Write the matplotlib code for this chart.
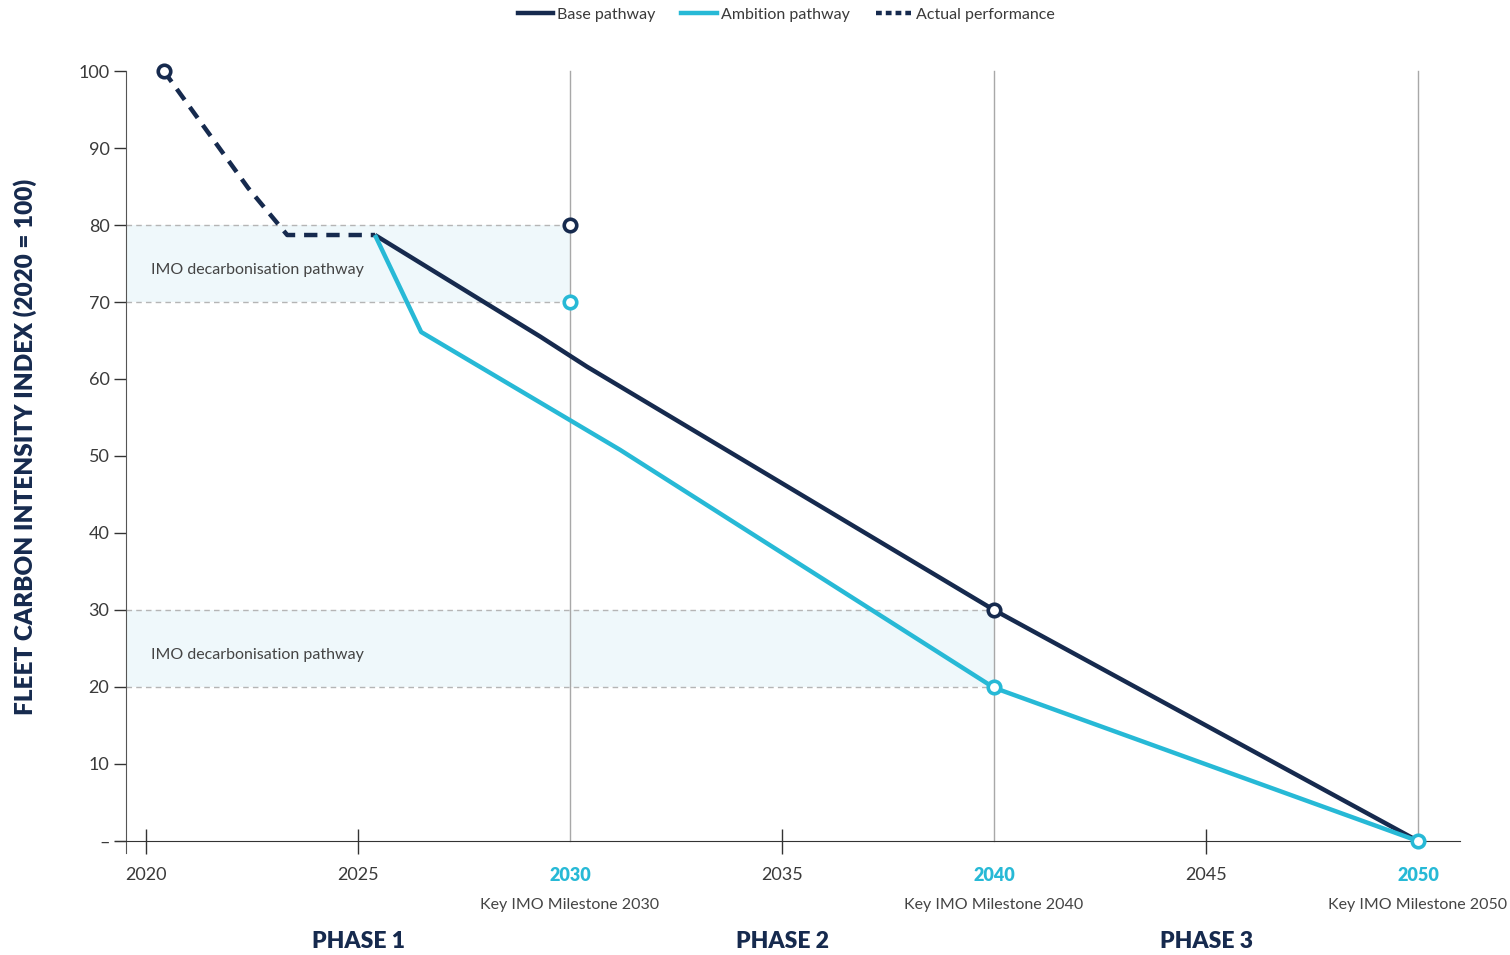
import matplotlib
matplotlib.use("Agg")
import matplotlib.pyplot as plt
from matplotlib.lines import Line2D

plt.rcParams['font.family'] = ['Lato', 'DejaVu Sans']

NAVY = '#162a4e'
CYAN = '#27b9d6'
GREY = '#3a3a3a'

# data
actual_x = [2020.42, 2022.41, 2023.33, 2025.40]
actual_y = [100, 84.8, 78.7, 78.7]
base_x = [2025.40, 2029.30, 2030.40, 2040, 2050]
base_y = [78.7, 65.5, 61.6, 30, 0]
amb_x = [2025.40, 2026.49, 2031.18, 2040, 2050]
amb_y = [78.7, 66.1, 50.8, 19.9, 0]

base_marks_x = [2020.42, 2030, 2040]
base_marks_y = [100, 80, 30]
amb_marks_x = [2030, 2040, 2050]
amb_marks_y = [70, 20, 0]

bands = [(70, 80, 2030), (20, 30, 2040)]
band_label = 'IMO decarbonisation pathway'

milestones = [2030, 2040, 2050]
plain_years = [2020, 2025, 2035, 2045]
yticks = [0, 10, 20, 30, 40, 50, 60, 70, 80, 90, 100]
ytick_labels = ['–', '10', '20', '30', '40', '50', '60', '70', '80', '90', '100']
phases = ['PHASE 1', 'PHASE 2', 'PHASE 3']
phase_x = [2025, 2035, 2045]

fig = plt.figure(figsize=(15.1, 9.55), dpi=100)
# axes spans px 100..1470 horizontally, 60..860 vertically
ax = fig.add_axes([100/1510, 1-860/955, 1370/1510, 800/955])
ax.set_xlim(2018.915, 2051.226)
ax.set_ylim(-2.47, 101.43)

x_left = 2019.53

# bands
for lo, hi, xe in bands:
    ax.fill_between([x_left, xe], lo, hi, color='#eff8fb', lw=0, zorder=0)
    for v in (lo, hi):
        ax.plot([x_left, xe], [v, v], color='#b5b5b5', lw=1, ls=(0, (4, 3)), zorder=1)
    ax.text(2020.12, (lo+hi)/2 - 0.8, band_label, fontsize=11.5, color='#444444',
            va='center', ha='left')

# milestone vertical lines
for m in milestones:
    ax.plot([m, m], [0, 100], color='#a8a8a8', lw=1, zorder=1)

# lines
ax.plot(base_x, base_y, color=NAVY, lw=3.2, solid_capstyle='butt', zorder=3)
ax.plot(amb_x, amb_y, color=CYAN, lw=3.2, solid_capstyle='butt', zorder=4)
ax.plot(actual_x, actual_y, color=NAVY, lw=3.2, dashes=(3.0, 2.0), zorder=3)

ax.plot(base_marks_x, base_marks_y, ls='none', marker='o', ms=9, mfc='white',
        mec=NAVY, mew=2.6, zorder=6, clip_on=False)
ax.plot(amb_marks_x, amb_marks_y, ls='none', marker='o', ms=9, mfc='white',
        mec=CYAN, mew=2.6, zorder=6, clip_on=False)

# spines
for s in ['top', 'right']:
    ax.spines[s].set_visible(False)
ax.spines['left'].set_position(('data', x_left))
ax.spines['left'].set_bounds(-1.5, 100)
ax.spines['left'].set_color('#555555')
ax.spines['bottom'].set_position(('data', 0))
ax.spines['bottom'].set_bounds(2019.27, 2051.0)
ax.spines['bottom'].set_color('#333333')

ax.set_yticks(yticks)
ax.set_yticklabels(ytick_labels)
ax.tick_params(axis='y', direction='out', length=9, width=1, color='#333333',
               labelsize=13, labelcolor=GREY, pad=3)

all_years = sorted(plain_years + milestones)
ax.set_xticks(all_years)
ax.set_xticklabels([str(y) for y in all_years])
ax.tick_params(axis='x', direction='inout', length=18, width=1, color='#333333',
               labelsize=13, labelcolor=GREY, pad=10)
for t, y in zip(ax.xaxis.get_major_ticks(), all_years):
    if y in milestones:
        t.tick1line.set_visible(False)
        t.label1.set_color(CYAN)
        t.label1.set_fontweight('heavy')

for m in milestones:
    ax.text(m, -8.3, f'Key IMO Milestone {m}', ha='center', va='center',
            fontsize=11.5, color='#444444')
for p, px in zip(phases, phase_x):
    ax.text(px, -13.1, p, ha='center', va='center', fontsize=16.5,
            fontweight='heavy', color=NAVY)

fig.text(25/1510, 1-447/955, 'FLEET CARBON INTENSITY INDEX (2020 = 100)',
         rotation=90, ha='center', va='center', fontsize=17.5,
         fontweight='heavy', color=NAVY)

handles = [Line2D([], [], color=NAVY, lw=3.2),
           Line2D([], [], color=CYAN, lw=3.2),
           Line2D([], [], color=NAVY, lw=3.2, dashes=(1.3, 0.9))]
fig.legend(handles, ['Base pathway', 'Ambition pathway', 'Actual performance'],
           loc='center', bbox_to_anchor=(786/1510, 1-15/955), ncol=3,
           frameon=False, fontsize=11.5, handlelength=2.2, handletextpad=0.3,
           columnspacing=1.6, labelcolor=GREY)

fig.savefig('out.png', dpi=100)
